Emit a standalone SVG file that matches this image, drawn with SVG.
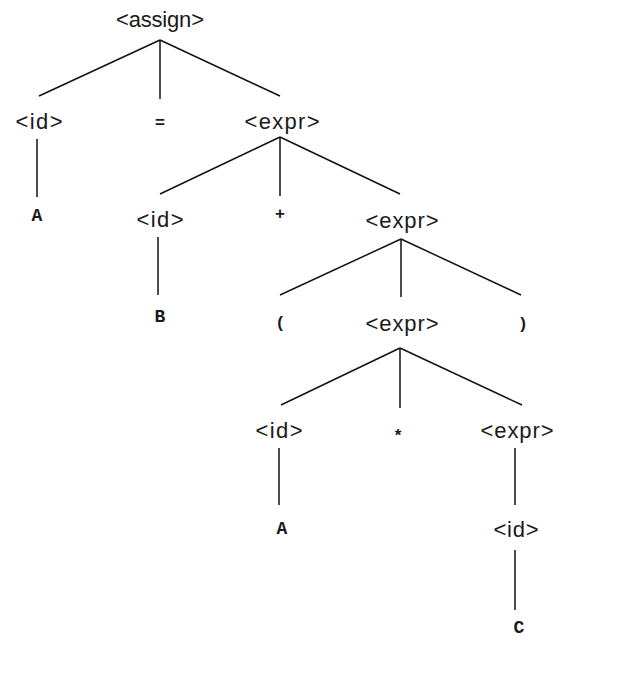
<svg xmlns="http://www.w3.org/2000/svg" width="620" height="686" viewBox="0 0 620 686">
<style>
.nt{font-family:"Liberation Sans",Arial,sans-serif;font-size:22px;fill:#1a1a1a;text-anchor:middle}
.t{font-family:"Liberation Mono","Courier New",monospace;font-size:18px;font-weight:bold;fill:#1a1a1a;text-anchor:middle}
.s{font-family:"Liberation Sans",Arial,sans-serif;font-size:17px;font-weight:bold;fill:#1a1a1a;text-anchor:middle}
.e line{stroke:#111;stroke-width:1.5}
</style>
<rect width="620" height="686" fill="#fff"/>
<g class="e" id="edges">
<line x1="160" y1="40" x2="39" y2="96"/>
<line x1="160" y1="40" x2="160" y2="99"/>
<line x1="160" y1="40" x2="280" y2="96"/>
<line x1="37" y1="139" x2="37" y2="197"/>
<line x1="280" y1="137" x2="160" y2="194"/>
<line x1="280" y1="137" x2="280" y2="196"/>
<line x1="280" y1="137" x2="400" y2="194"/>
<line x1="158" y1="237" x2="158" y2="295"/>
<line x1="401" y1="239" x2="280" y2="295"/>
<line x1="401" y1="239" x2="401" y2="297"/>
<line x1="401" y1="239" x2="521" y2="295"/>
<line x1="400" y1="348" x2="281" y2="405"/>
<line x1="400" y1="348" x2="400" y2="408"/>
<line x1="400" y1="348" x2="522" y2="405"/>
<line x1="279" y1="448" x2="279" y2="505"/>
<line x1="515" y1="448" x2="515" y2="505"/>
<line x1="515" y1="550" x2="515" y2="610"/>
</g>
<g id="assign"><text class="nt" x="160" y="27" textLength="88" lengthAdjust="spacing">&lt;assign&gt;</text></g>
<g id="id1"><text class="nt" x="39" y="129" textLength="47" lengthAdjust="spacing">&lt;id&gt;</text></g>
<g id="eq"><text class="s" x="160" y="128">=</text></g>
<g id="expr1"><text class="nt" x="282" y="129" textLength="75" lengthAdjust="spacing">&lt;expr&gt;</text></g>
<g id="A1"><text class="t" x="37" y="221">A</text></g>
<g id="id2"><text class="nt" x="160" y="227" textLength="47" lengthAdjust="spacing">&lt;id&gt;</text></g>
<g id="plus"><text class="s" x="280" y="219">+</text></g>
<g id="expr2"><text class="nt" x="402" y="228" textLength="73" lengthAdjust="spacing">&lt;expr&gt;</text></g>
<g id="B"><text class="t" x="160" y="322">B</text></g>
<g id="lparen"><text class="s" x="280" y="328">(</text></g>
<g id="expr3"><text class="nt" x="402" y="331" textLength="73" lengthAdjust="spacing">&lt;expr&gt;</text></g>
<g id="rparen"><text class="s" x="523" y="329">)</text></g>
<g id="id3"><text class="nt" x="279" y="438" textLength="47" lengthAdjust="spacing">&lt;id&gt;</text></g>
<g id="star"><text class="s" x="398" y="441">*</text></g>
<g id="expr4"><text class="nt" x="517" y="438" textLength="73" lengthAdjust="spacing">&lt;expr&gt;</text></g>
<g id="A2"><text class="t" x="282" y="534">A</text></g>
<g id="id4"><text class="nt" x="516" y="537" textLength="45" lengthAdjust="spacing">&lt;id&gt;</text></g>
<g id="C"><text class="t" x="519" y="633">C</text></g>
</svg>
